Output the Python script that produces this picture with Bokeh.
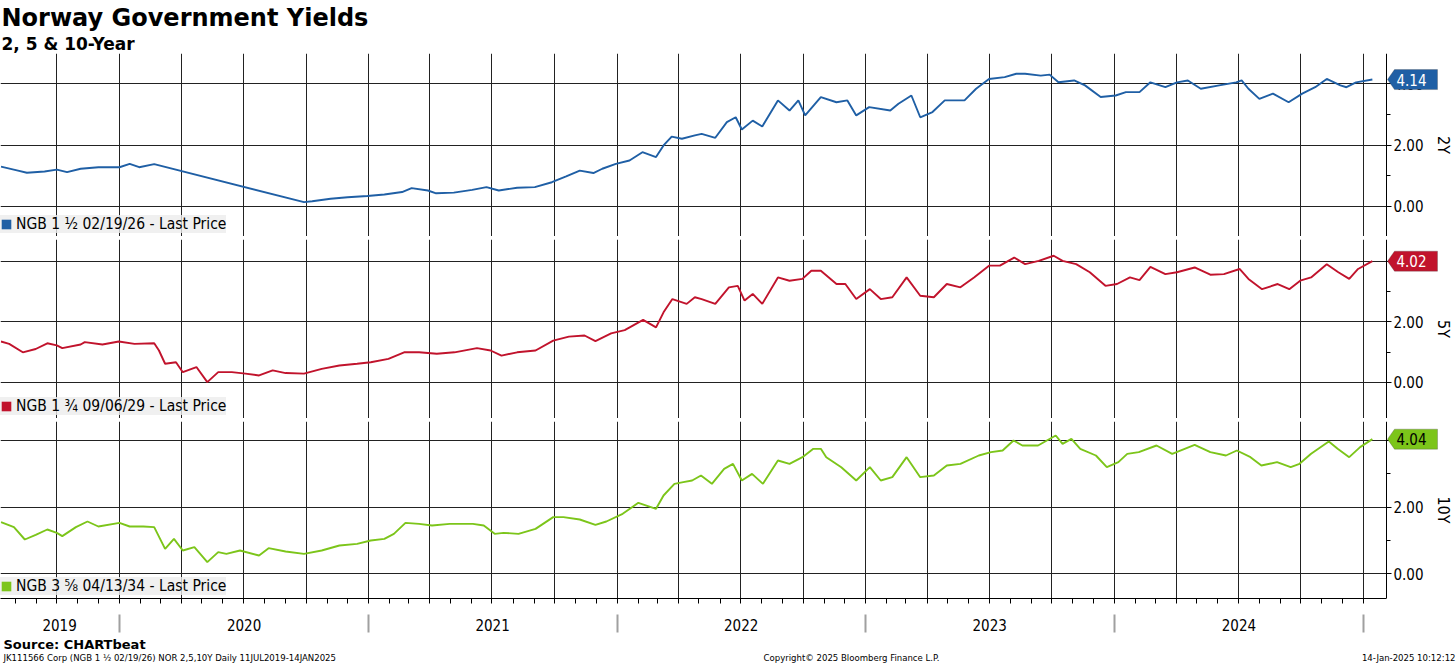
import pandas as pd
from bokeh.plotting import figure
from bokeh.layouts import column
from bokeh.models import (Range1d, FixedTicker, Grid, DatetimeAxis, LinearAxis, NumeralTickFormatter,
                          DatetimeTickFormatter, CustomJSTickFormatter, Label, PolyAnnotation,
                          BoxAnnotation, Legend, LegendItem)
from bokeh.embed import file_html
from bokeh.resources import INLINE

# ---------------- text ----------------
title_txt = "Norway Government Yields"
subtitle_txt = "2, 5 & 10-Year"
source_txt = "Source: CHARTbeat"
foot_left = "JK111566 Corp (NGB 1 \u00bd 02/19/26) NOR 2,5,10Y  Daily 11JUL2019-14JAN2025"
foot_mid = "Copyright\u00a9 2025 Bloomberg Finance L.P."
foot_right = "14-Jan-2025 10:12:12"
panel_names = ["2Y", "5Y", "10Y"]
legend_labels = ["NGB 1 \u00bd 02/19/26 - Last Price",
                 "NGB 1 \u00be 09/06/29 - Last Price",
                 "NGB 3 \u215d 04/13/34 - Last Price"]
last_values = [4.14, 4.02, 4.04]
year_labels_at = ["2019-10-05", "2020-07-02", "2021-07-02", "2022-07-02", "2023-07-02", "2024-07-02"]

# ---------------- data ----------------
dates_2y = ["2019-07-11", "2019-08-05", "2019-08-18", "2019-09-13", "2019-10-01", "2019-10-16", "2019-11-05", "2019-12-01",
            "2020-01-01", "2020-01-16", "2020-01-30", "2020-02-21", "2020-09-28", "2020-10-10", "2020-11-06", "2020-12-01", "2020-12-30",
            "2021-01-24", "2021-02-19", "2021-03-05", "2021-03-29", "2021-04-10", "2021-05-06", "2021-06-02", "2021-06-23", "2021-07-11",
            "2021-08-07", "2021-09-02", "2021-09-27", "2021-10-18", "2021-11-07", "2021-11-27", "2021-12-10", "2021-12-30",
            "2022-01-19", "2022-02-07", "2022-02-27", "2022-03-10", "2022-03-22", "2022-04-06", "2022-04-25", "2022-05-05", "2022-05-25",
            "2022-06-11", "2022-06-24", "2022-07-03", "2022-07-19", "2022-08-02", "2022-08-25", "2022-09-11", "2022-09-24", "2022-10-04",
            "2022-10-27", "2022-11-19", "2022-12-05", "2022-12-18",
            "2023-01-06", "2023-02-06", "2023-02-18", "2023-03-09", "2023-03-22", "2023-04-09", "2023-04-27", "2023-05-26", "2023-06-12",
            "2023-07-01", "2023-07-24", "2023-08-10", "2023-08-23", "2023-09-15", "2023-09-28", "2023-10-11", "2023-11-03", "2023-11-19",
            "2023-12-12",
            "2024-01-03", "2024-01-18", "2024-02-07", "2024-02-23", "2024-03-16", "2024-04-02", "2024-04-18", "2024-05-07", "2024-06-03",
            "2024-06-28", "2024-07-06", "2024-07-16", "2024-08-01", "2024-08-21", "2024-09-13", "2024-10-03", "2024-10-22", "2024-11-08",
            "2024-11-28", "2024-12-07", "2024-12-21", "2025-01-14"]
yld_2y = [1.30, 1.17, 1.10, 1.14, 1.20, 1.12, 1.23, 1.28,
          1.28, 1.39, 1.28, 1.38, 0.14, 0.17, 0.25, 0.30, 0.34,
          0.39, 0.47, 0.60, 0.52, 0.43, 0.45, 0.54, 0.63, 0.52,
          0.61, 0.63, 0.79, 0.98, 1.17, 1.09, 1.23, 1.39,
          1.50, 1.77, 1.61, 1.99, 2.28, 2.21, 2.32, 2.37, 2.24,
          2.75, 2.91, 2.51, 2.80, 2.61, 3.46, 3.13, 3.46, 2.97,
          3.57, 3.40, 3.46, 2.97,
          3.24, 3.13, 3.35, 3.62, 2.91, 3.08, 3.46, 3.46, 3.84,
          4.16, 4.22, 4.33, 4.33, 4.27, 4.30, 4.05, 4.11, 3.95,
          3.57,
          3.62, 3.73, 3.73, 4.05, 3.89, 4.05, 4.11, 3.84, 3.95,
          4.05, 4.11, 3.84, 3.51, 3.68, 3.40, 3.68, 3.89, 4.16,
          3.95, 3.89, 4.05, 4.14]

dates_5y = ["2019-07-11", "2019-07-23", "2019-08-12", "2019-08-31", "2019-09-17", "2019-10-01", "2019-10-09", "2019-11-05",
            "2019-11-11", "2019-12-07", "2019-12-31",
            "2020-01-23", "2020-02-21", "2020-02-28", "2020-03-08", "2020-03-24", "2020-04-03", "2020-04-23", "2020-05-09",
            "2020-05-25", "2020-06-14", "2020-07-04", "2020-07-24", "2020-08-13", "2020-09-01", "2020-09-28", "2020-10-24",
            "2020-11-19", "2020-12-15",
            "2021-01-04", "2021-01-30", "2021-02-22", "2021-03-16", "2021-04-11", "2021-05-07", "2021-06-09", "2021-06-29",
            "2021-07-15", "2021-08-07", "2021-09-03", "2021-09-29", "2021-10-22", "2021-11-14", "2021-11-30", "2021-12-23",
            "2022-01-12", "2022-02-08", "2022-02-27", "2022-03-10", "2022-03-23", "2022-04-13", "2022-04-25", "2022-05-05",
            "2022-05-25", "2022-06-14", "2022-06-27", "2022-07-07", "2022-07-19", "2022-08-02", "2022-08-25", "2022-09-11",
            "2022-09-30", "2022-10-13", "2022-10-27", "2022-11-19", "2022-12-02", "2022-12-18",
            "2023-01-07", "2023-01-23", "2023-02-09", "2023-03-02", "2023-03-22", "2023-04-11", "2023-04-30", "2023-05-20",
            "2023-06-09", "2023-07-01", "2023-07-17", "2023-08-07", "2023-08-23", "2023-09-12", "2023-10-04", "2023-10-17",
            "2023-11-06", "2023-11-26", "2023-12-19",
            "2024-01-05", "2024-01-24", "2024-02-07", "2024-02-23", "2024-03-16", "2024-04-02", "2024-04-28", "2024-05-21",
            "2024-06-10", "2024-07-03", "2024-07-16", "2024-08-05", "2024-08-28", "2024-09-14", "2024-09-30", "2024-10-16",
            "2024-11-08", "2024-11-25", "2024-12-11", "2024-12-24", "2025-01-14"]
yld_5y = [1.35, 1.27, 0.99, 1.10, 1.29, 1.22, 1.13, 1.25,
          1.33, 1.25, 1.35,
          1.27, 1.29, 1.05, 0.61, 0.66, 0.33, 0.50, 0.00,
          0.33, 0.33, 0.28, 0.22, 0.39, 0.30, 0.28, 0.44,
          0.55, 0.61,
          0.66, 0.77, 0.99, 0.99, 0.94, 0.99, 1.13, 1.05,
          0.88, 0.99, 1.05, 1.38, 1.51, 1.55, 1.36, 1.62,
          1.73, 2.07, 1.82, 2.32, 2.76, 2.60, 2.82, 2.76,
          2.60, 3.15, 3.20, 2.71, 2.93, 2.60, 3.48, 3.37,
          3.43, 3.70, 3.70, 3.26, 3.26, 2.76,
          3.09, 2.76, 2.82, 3.48, 2.87, 2.82, 3.26, 3.15,
          3.48, 3.87, 3.87, 4.14, 3.92, 4.03, 4.20, 4.03,
          3.92, 3.65, 3.20,
          3.26, 3.48, 3.39, 3.83, 3.59, 3.65, 3.81, 3.57,
          3.59, 3.76, 3.43, 3.09, 3.26, 3.09, 3.37, 3.48,
          3.92, 3.65, 3.43, 3.76, 4.02]

dates_10y = ["2019-07-11", "2019-07-30", "2019-08-15", "2019-08-31", "2019-09-17", "2019-10-01", "2019-10-09", "2019-10-29",
             "2019-11-15", "2019-12-01",
             "2020-01-01", "2020-01-16", "2020-02-05", "2020-02-21", "2020-03-08", "2020-03-21", "2020-04-03", "2020-04-20",
             "2020-05-09", "2020-05-25", "2020-06-06", "2020-06-26", "2020-07-24", "2020-08-07", "2020-09-01", "2020-09-28",
             "2020-10-24", "2020-11-19", "2020-12-15",
             "2021-01-04", "2021-01-24", "2021-02-07", "2021-02-24", "2021-03-16", "2021-04-04", "2021-04-30", "2021-06-03",
             "2021-06-19", "2021-07-05", "2021-07-18", "2021-08-09", "2021-09-03", "2021-09-29", "2021-10-14", "2021-11-07",
             "2021-11-30", "2021-12-16",
             "2022-01-09", "2022-02-01", "2022-02-27", "2022-03-10", "2022-03-26", "2022-04-08", "2022-04-21", "2022-05-04",
             "2022-05-20", "2022-06-07", "2022-06-20", "2022-07-03", "2022-07-18", "2022-08-03", "2022-08-25", "2022-09-11",
             "2022-09-30", "2022-10-16", "2022-10-27", "2022-11-04", "2022-11-26", "2022-12-18",
             "2023-01-07", "2023-01-23", "2023-02-09", "2023-03-02", "2023-03-22", "2023-04-11", "2023-04-30", "2023-05-20",
             "2023-06-16", "2023-07-04", "2023-07-21", "2023-08-06", "2023-08-19", "2023-09-11", "2023-10-07", "2023-10-17",
             "2023-10-30", "2023-11-12", "2023-12-05", "2023-12-21",
             "2024-01-07", "2024-01-20", "2024-02-06", "2024-03-03", "2024-03-26", "2024-04-28", "2024-05-21", "2024-06-13",
             "2024-06-29", "2024-07-19", "2024-08-04", "2024-08-27", "2024-09-16", "2024-09-29", "2024-10-16", "2024-11-11",
             "2024-11-24", "2024-12-11", "2024-12-27", "2025-01-14"]
yld_10y = [1.55, 1.40, 1.03, 1.17, 1.33, 1.23, 1.13, 1.40,
           1.57, 1.42,
           1.53, 1.42, 1.42, 1.40, 0.75, 1.05, 0.70, 0.80,
           0.35, 0.65, 0.60, 0.70, 0.55, 0.77, 0.67, 0.60,
           0.70, 0.85, 0.90,
           1.00, 1.05, 1.20, 1.53, 1.50, 1.45, 1.50, 1.50,
           1.45, 1.20, 1.23, 1.20, 1.35, 1.70, 1.70, 1.63,
           1.47, 1.57,
           1.80, 2.13, 1.95, 2.35, 2.70, 2.75, 2.80, 2.95,
           2.70, 3.15, 3.30, 2.80, 3.00, 2.70, 3.40, 3.30,
           3.50, 3.75, 3.75, 3.50, 3.20, 2.80,
           3.20, 2.80, 2.90, 3.50, 2.90, 2.95, 3.25, 3.30,
           3.55, 3.65, 3.70, 4.00, 3.85, 3.85, 4.15, 3.90,
           4.05, 3.75, 3.55, 3.20,
           3.35, 3.60, 3.65, 3.85, 3.60, 3.87, 3.65, 3.55,
           3.70, 3.50, 3.25, 3.35, 3.20, 3.30, 3.60, 3.97,
           3.75, 3.50, 3.80, 4.04]

for d, v in ((dates_2y, yld_2y), (dates_5y, yld_5y), (dates_10y, yld_10y)):
    assert len(d) == len(v), (len(d), len(v))

# ---------------- styles / layout ----------------
FONT = "DejaVu Sans Condensed"
BOLD_FONT = "DejaVu Sans"
BLUE, RED, GREEN = "#1f5fa5", "#c1132c", "#7cc51a"
GRID = "#222222"
SEP = "#3c3c3c"
W = 1456
AX_PX = 1386            # pixel position of the right value axis
DAYS_PER_PX = 1.4686


def ms(s):
    return pd.Timestamp(s).value / 1e6


DAY_MS = 86400000.0
x0 = ms("2019-07-11") - 0.5 * DAYS_PER_PX * DAY_MS
xr = Range1d(start=x0, end=x0 + W * DAYS_PER_PX * DAY_MS)
axis_x = x0 + AX_PX * DAYS_PER_PX * DAY_MS

quarter_ticks = [ms(t) for t in pd.date_range("2019-10-01", "2025-01-01", freq="QS")]
month_ticks = [ms(t) for t in pd.date_range("2019-08-01", "2025-01-01", freq="MS")]
year_starts = [ms(t) for t in pd.date_range("2020-01-01", "2025-01-01", freq="YS")]
year_label_ticks = [ms(t) for t in year_labels_at]

panels = [
    dict(name=panel_names[0], dates=dates_2y, vals=yld_2y, color=BLUE, tag_text="white",
         legend=legend_labels[0], last=last_values[0], yr=(-0.98, 4.99), fh=183),
    dict(name=panel_names[1], dates=dates_5y, vals=yld_5y, color=RED, tag_text="white",
         legend=legend_labels[1], last=last_values[1], yr=(-1.21, 4.74), fh=179),
    dict(name=panel_names[2], dates=dates_10y, vals=yld_10y, color=GREEN, tag_text="black",
         legend=legend_labels[2], last=last_values[2], yr=(-0.74, 4.57), fh=177),
]


def strip_grids(f):
    f.center = [r for r in f.center if not isinstance(r, Grid)]


def bare_fig(height, xrange, yrange, bg="white"):
    f = figure(width=W, height=height, x_range=xrange, y_range=yrange,
               x_axis_location=None, y_axis_location=None,
               output_backend="svg", toolbar_location=None, min_border=0,
               outline_line_color=None, background_fill_color=bg, border_fill_color=bg)
    strip_grids(f)
    return f


def make_panel(cfg, bottom):
    fh = cfg["fh"]
    p = figure(width=W, height=fh + bottom, x_range=xr, y_range=Range1d(*cfg["yr"]),
               x_axis_location=None, y_axis_location=None,
               output_backend="svg", toolbar_location=None,
               min_border_left=0, min_border_right=0, min_border_top=0, min_border_bottom=bottom,
               outline_line_color=None, background_fill_color="white", border_fill_color="white")
    strip_grids(p)
    p.add_layout(Grid(dimension=0, ticker=FixedTicker(ticks=quarter_ticks),
                      grid_line_color=GRID, grid_line_width=1))
    p.add_layout(Grid(dimension=1, ticker=FixedTicker(ticks=[0, 2, 4]),
                      grid_line_color=GRID, grid_line_width=1))
    # blank the area right of the value axis
    p.add_layout(BoxAnnotation(left=axis_x, fill_color="white", fill_alpha=1.0,
                               line_color=None, level="underlay"))

    ax = LinearAxis(fixed_location=axis_x,
                    ticker=FixedTicker(ticks=[0, 2, 4], minor_ticks=[1, 3]),
                    formatter=NumeralTickFormatter(format="0.00"),
                    axis_line_color="black", major_tick_in=0, major_tick_out=5,
                    minor_tick_in=0, minor_tick_out=4,
                    major_tick_line_color="black", minor_tick_line_color="black",
                    major_label_standoff=2, major_label_text_font=FONT,
                    major_label_text_font_size="15px", major_label_text_color="black",
                    axis_label=cfg["name"], axis_label_standoff=7,
                    axis_label_text_font=FONT, axis_label_text_font_size="16px",
                    axis_label_text_font_style="normal", axis_label_text_color="black")
    p.add_layout(ax, "right")

    x = pd.to_datetime(cfg["dates"])
    p.line(x=x, y=cfg["vals"], line_color=cfg["color"], line_width=1.9)

    # zero-area quad used only as the legend swatch
    sw = p.quad(left=x[:1], right=x[:1], bottom=cfg["vals"][:1], top=cfg["vals"][:1],
                fill_color=cfg["color"], line_color=None)
    leg = Legend(items=[LegendItem(label=cfg["legend"], renderers=[sw])], location=(0, 3),
                 background_fill_color="#ececec", background_fill_alpha=0.8, border_line_color=None,
                 label_text_font=FONT, label_text_font_size="15.5px", label_text_color="black",
                 padding=6, margin=0, glyph_width=12, glyph_height=12, label_standoff=4,
                 spacing=0, label_height=12)
    p.add_layout(leg)

    # last value tag
    lo, hi = cfg["yr"]
    hh = 10.0 * (hi - lo) / fh
    v = cfg["last"]
    p.add_layout(PolyAnnotation(xs=[AX_PX + 1, AX_PX + 8, AX_PX + 51, AX_PX + 51, AX_PX + 8],
                                ys=[v, v + hh, v + hh, v - hh, v - hh],
                                xs_units="screen", ys_units="data",
                                fill_color=cfg["color"], fill_alpha=1.0,
                                line_color="#444444", line_width=1))
    p.add_layout(Label(x=AX_PX + 10, y=v, x_units="screen", y_units="data", text=f"{v:.2f}",
                       text_color=cfg["tag_text"], text_font=FONT, text_font_size="15px",
                       text_baseline="middle", text_align="left"))
    return p


# header
HEAD_H = 53
header = bare_fig(HEAD_H, Range1d(0, W), Range1d(0, HEAD_H))
header.add_layout(Label(x=1, y=HEAD_H - 17, x_units="screen", y_units="screen", text=title_txt,
                        text_font=BOLD_FONT, text_font_style="bold", text_font_size="24px",
                        text_color="black", text_baseline="middle"))
header.add_layout(Label(x=1, y=HEAD_H - 43, x_units="screen", y_units="screen", text=subtitle_txt,
                        text_font=BOLD_FONT, text_font_style="bold", text_font_size="17px",
                        text_color="black", text_baseline="middle"))

p1 = make_panel(panels[0], 0)
p2 = make_panel(panels[1], 0)
p3 = make_panel(panels[2], 40)

# bottom axes
year_fmt = DatetimeTickFormatter(years="%Y", months="%Y", days="%Y", hours="%Y", hourmin="%Y",
                                 minutes="%Y", minsec="%Y", seconds="%Y", milliseconds="%Y",
                                 microseconds="%Y")
axA = DatetimeAxis(ticker=FixedTicker(ticks=year_label_ticks, minor_ticks=month_ticks),
                   formatter=year_fmt, axis_line_color="black", bounds=(x0, axis_x),
                   major_tick_line_color=None, major_tick_in=0, major_tick_out=0,
                   minor_tick_in=0, minor_tick_out=5, minor_tick_line_color="black",
                   major_label_standoff=15, major_label_text_font=FONT,
                   major_label_text_font_size="15px", major_label_text_color="black")
p3.add_layout(axA, "below")
axB = DatetimeAxis(ticker=FixedTicker(ticks=year_starts, minor_ticks=[]),
                   formatter=CustomJSTickFormatter(code="return ''"),
                   axis_line_color=None, bounds=(x0, axis_x),
                   major_tick_in=19, major_tick_out=-1,
                   major_tick_line_color="#a0a0a0", major_tick_line_width=2,
                   minor_tick_in=0, minor_tick_out=0, minor_tick_line_color=None,
                   major_label_standoff=0, major_label_text_font_size="1px")
p3.add_layout(axB, "below")

sep1 = bare_fig(3, Range1d(0, 1), Range1d(0, 1), bg=SEP)
sep2 = bare_fig(3, Range1d(0, 1), Range1d(0, 1), bg=SEP)

# footer
FOOT_H = 665 - HEAD_H - 183 - 3 - 179 - 3 - (177 + 40)
footer = bare_fig(FOOT_H, Range1d(0, W), Range1d(0, FOOT_H))
footer.add_layout(Label(x=3, y=FOOT_H - 6, x_units="screen", y_units="screen", text=source_txt,
                        text_font=BOLD_FONT, text_font_style="bold", text_font_size="13px",
                        text_color="black", text_baseline="middle"))
for txt, xpos, align in ((foot_left, 3, "left"), (foot_mid, 763, "left"), (foot_right, W - 1, "right")):
    footer.add_layout(Label(x=xpos, y=8, x_units="screen", y_units="screen", text=txt,
                            text_font=FONT, text_font_size="9.5px", text_color="black",
                            text_baseline="middle", text_align=align))

layout = column(header, p1, sep1, p2, sep2, p3, footer, spacing=0)

open("out.html", "w").write(file_html(layout, INLINE))
